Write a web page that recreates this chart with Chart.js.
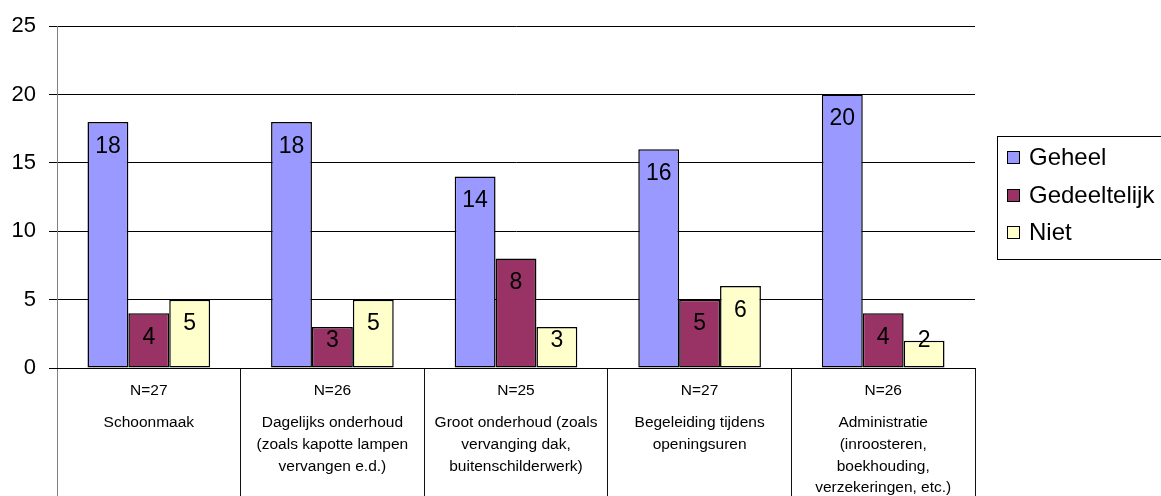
<!DOCTYPE html>
<html>
<head>
<meta charset="utf-8">
<script src="https://cdn.jsdelivr.net/npm/chart.js@4/dist/chart.umd.min.js"></script>
<style>
  html, body { margin: 0; padding: 0; background: #fff; overflow: hidden; }
  #wrap { width: 1161px; height: 496px; }
</style>
</head>
<body>
<div id="wrap"><canvas id="c" width="1161" height="496"></canvas></div>
<script>
// Respondent counts per task, shown on the first row under the axis
const nLabels = ['N=27', 'N=26', 'N=25', 'N=27', 'N=26'];

// Task descriptions (one array per category, one string per line)
const categories = [
  ['Schoonmaak'],
  ['Dagelijks onderhoud', '(zoals kapotte lampen', 'vervangen e.d.)'],
  ['Groot onderhoud (zoals', 'vervanging dak,', 'buitenschilderwerk)'],
  ['Begeleiding tijdens', 'openingsuren'],
  ['Administratie', '(inroosteren,', 'boekhouding,', 'verzekeringen, etc.)']
];

const seriesNames = ['Geheel', 'Gedeeltelijk', 'Niet'];
const geheel       = [18, 18, 14, 16, 20];
const gedeeltelijk = [4, 3, 8, 5, 4];
const niet         = [5, 5, 3, 6, 2];

const yMin = 0, yMax = 25, yStep = 5;

const FONT = 'Arial, "Liberation Sans", sans-serif';
const seriesColors = ['#9999FF', '#993366', '#FFFFCC'];

Chart.defaults.font.family = FONT;
Chart.defaults.color = '#000';

// Value printed inside the top of each bar (kept above the baseline for short bars)
const barValueLabels = {
  id: 'barValueLabels',
  afterDatasetsDraw(chart) {
    const ctx = chart.ctx;
    ctx.save();
    ctx.font = '23px ' + FONT;
    ctx.fillStyle = '#000';
    ctx.textAlign = 'center';
    ctx.textBaseline = 'middle';
    chart.data.datasets.forEach((ds, di) => {
      chart.getDatasetMeta(di).data.forEach((bar, i) => {
        const y = Math.min(bar.y + 24.5, bar.base - 27);
        ctx.fillText(String(ds.data[i]), bar.x, y);
      });
    });
    ctx.restore();
  }
};

// Framed legend to the right of the plot
const boxedLegend = {
  id: 'boxedLegend',
  afterDraw(chart) {
    const { ctx, chartArea } = chart;
    const left = Math.round(chartArea.right + 22);
    const top = Math.round(chartArea.top + 110);
    const rowCenters = [21, 59, 96];
    ctx.save();
    ctx.strokeStyle = '#000';
    ctx.lineWidth = 1;
    ctx.strokeRect(left + 0.5, top + 0.5, chart.width - left + 20, 123);
    ctx.font = '24px ' + FONT;
    ctx.textAlign = 'left';
    ctx.textBaseline = 'middle';
    chart.data.datasets.forEach((ds, i) => {
      const cy = top + rowCenters[i];
      const sx = left + 10, sy = Math.round(cy - 6.5);
      ctx.fillStyle = ds.backgroundColor;
      ctx.fillRect(sx, sy, 13, 13);
      ctx.strokeStyle = '#000';
      ctx.strokeRect(sx + 0.5, sy + 0.5, 12, 12);
      ctx.fillStyle = '#000';
      ctx.fillText(ds.label, left + 32, cy + 1);
    });
    ctx.restore();
  }
};

const seriesData = [geheel, gedeeltelijk, niet];

new Chart(document.getElementById('c'), {
  type: 'bar',
  data: {
    labels: nLabels,
    datasets: seriesNames.map((name, i) => ({
      label: name,
      data: seriesData[i],
      backgroundColor: seriesColors[i],
      borderColor: '#000',
      borderWidth: 1.5,
      borderSkipped: false,
      categoryPercentage: 0.668,
      barPercentage: 1.0,
      xAxisID: 'x',
      yAxisID: 'y'
    }))
  },
  options: {
    responsive: false,
    animation: false,
    layout: { padding: { top: 24, right: 186, left: 0, bottom: 0 } },
    plugins: {
      legend: { display: false },
      tooltip: { enabled: false }
    },
    scales: {
      y: {
        min: yMin,
        max: yMax,
        ticks: { stepSize: yStep, padding: 13, font: { size: 22 }, color: '#000' },
        grid: { color: '#000', lineWidth: 1, tickLength: 8 },
        border: { color: '#808080', width: 1 },
        afterFit(s) { s.width = 57; }
      },
      x: {
        type: 'category',
        position: 'bottom',
        weight: 0,
        offset: true,
        grid: {
          offset: true,
          drawOnChartArea: false,
          tickLength: 128,
          lineWidth: 1,
          color: c => (c.index === 0 || c.index === nLabels.length) ? '#808080' : '#111'
        },
        border: { color: '#000', width: 1 },
        ticks: {
          maxRotation: 0, minRotation: 0, autoSkip: false,
          padding: -115,
          font: { size: 15.5, lineHeight: 1.2 },
          color: '#000'
        },
        afterFit(s) { s.height = 33; }
      },
      x2: {
        type: 'category',
        position: 'bottom',
        weight: 1,
        labels: categories,
        offset: true,
        grid: { display: false, drawTicks: false },
        border: { display: false },
        ticks: {
          maxRotation: 0, minRotation: 0, autoSkip: false,
          padding: 11,
          font: { size: 15.5, lineHeight: 1.4 },
          color: '#000'
        },
        afterFit(s) { s.height = 95; }
      }
    }
  },
  plugins: [barValueLabels, boxedLegend]
});
</script>
</body>
</html>
